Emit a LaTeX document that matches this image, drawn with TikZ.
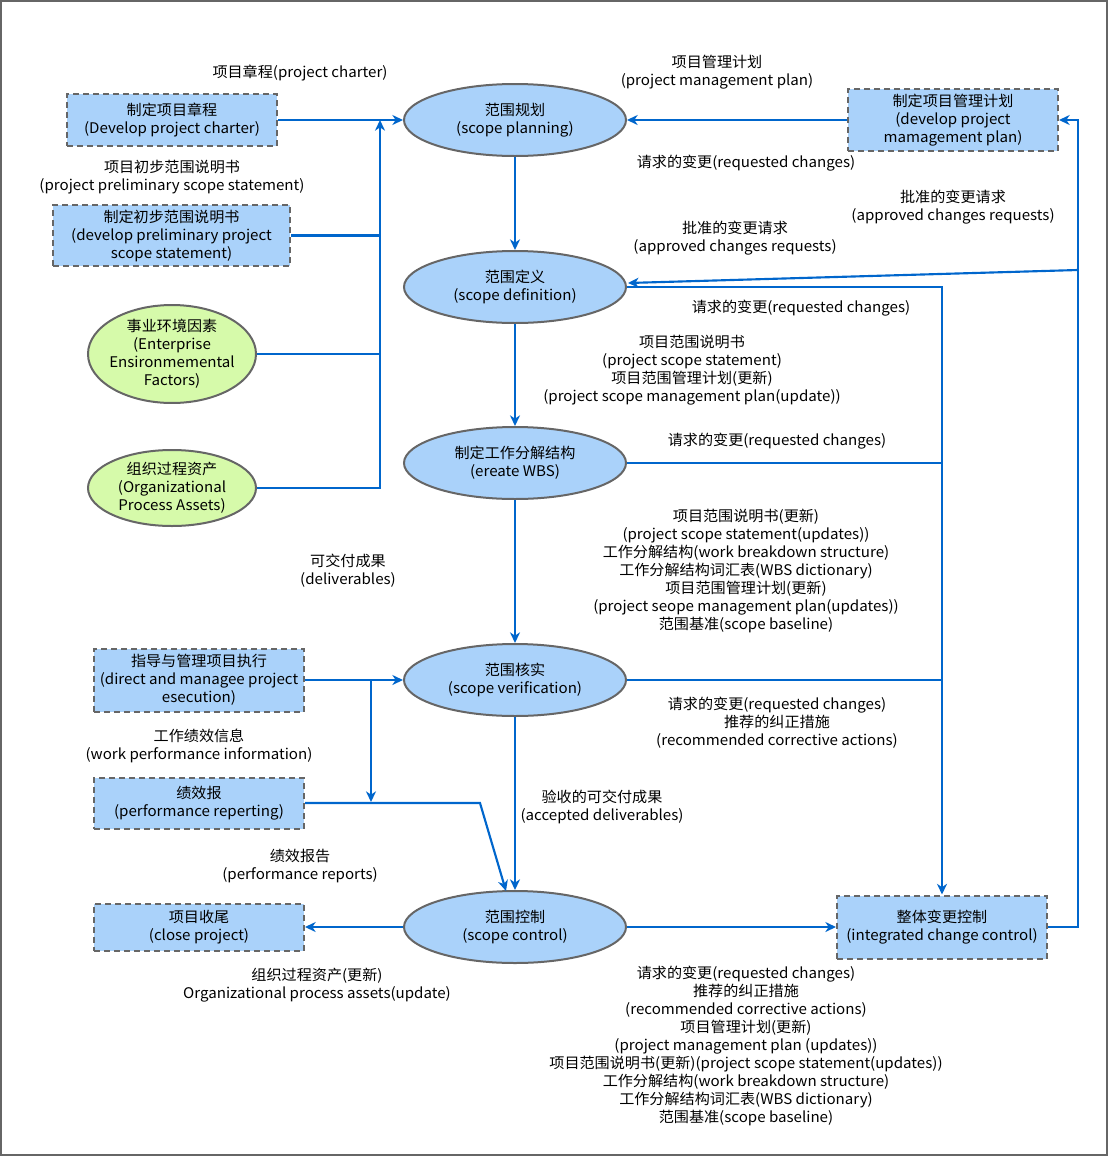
\documentclass[tikz,border=0pt]{standalone}
\usepackage{fontspec}
\setmainfont{Noto Sans CJK SC}[FakeStretch=1.03]
\usetikzlibrary{shapes.geometric,arrows.meta}
\definecolor{fillblue}{RGB}{170,210,250}
\definecolor{fillgreen}{RGB}{214,250,170}
\definecolor{lineblue}{RGB}{0,102,204}
\definecolor{edgegray}{RGB}{102,102,102}
\newcommand{\pxu}{0.75pt}
\begin{document}
\begin{tikzpicture}[x=0.75pt,y=-0.75pt,
  every node/.style={font=\fontsize{11}{13.5}\selectfont, align=center, inner sep=0pt},
  proc/.style={ellipse, draw=edgegray, line width=1.5pt, fill=fillblue, minimum width={222*\pxu}, minimum height={72*\pxu}},
  env/.style={ellipse, draw=edgegray, line width=1.5pt, fill=fillgreen, inner xsep=-8pt, minimum width={168*\pxu}, minimum height={76*\pxu}},
  extbox/.style={rectangle, draw=edgegray, dashed, dash pattern=on 4.5pt off 3pt, line width=1.5pt, fill=fillblue, minimum width={210*\pxu}},
  conn/.style={draw=lineblue, line width=1.6pt},
  arr/.style={conn, -{Stealth[length=8pt, width=7.5pt, inset=2.5pt]}},
  lbl/.style={text=black, yshift=-1.2pt}
]
\useasboundingbox (0,0) rectangle (1109,1157);
\draw[edgegray, line width=1.5pt] (1,1) rectangle (1107,1155);

% process ellipses
\node[proc] (E1) at (515,120) {范围规划\\(scope planning)};
\node[proc] (E2) at (515,287) {范围定义\\(scope definition)};
\node[proc] (E3) at (515,463) {制定工作分解结构\\(ereate WBS)};
\node[proc] (E4) at (515,680) {范围核实\\(scope verification)};
\node[proc] (E5) at (515,927) {范围控制\\(scope control)};

% environment ellipses
\node[env] (G1) at (172,354) {事业环境因素\\(Enterprise\\Ensironmemental\\Factors)};
\node[env] (G2) at (172,488) {组织过程资产\\(Organizational\\Process Assets)};

% external boxes
\node[extbox, minimum height={52*\pxu}] (B1) at (172,120) {制定项目章程\\(Develop project charter)};
\node[extbox, minimum width={237*\pxu}, minimum height={61*\pxu}] (B2) at (171.5,235.5) {制定初步范围说明书\\(develop preliminary project\\scope statement)};
\node[extbox, minimum height={62*\pxu}] (B3) at (953,120) {制定项目管理计划\\(develop project\\mamagement plan)};
\node[extbox, minimum height={63*\pxu}] (B4) at (199,680) {指导与管理项目执行\\(direct and managee project\\esecution)};
\node[extbox, minimum height={51*\pxu}] (B5) at (199,803) {绩效报\\(performance reperting)};
\node[extbox, minimum height={47*\pxu}] (B6) at (199,927) {项目收尾\\(close project)};
\node[extbox, minimum height={63*\pxu}] (B7) at (942,927) {整体变更控制\\(integrated change control)};

% junction coordinates
\coordinate (J1) at (380,120);
\coordinate (R1) at (1078,120);
\coordinate (R2) at (1078,270);
\coordinate (E2a) at (628,283);
\coordinate (K1) at (371,680);
\coordinate (K2) at (371,802);
\coordinate (K3) at (480,803);
\coordinate (K4) at (506,891);

% connectors, left inputs
\draw[arr] (B1.east) -- (E1.west);
\draw[conn] (B2.east) -- (B2.east -| J1);
\draw[conn] (G1.east) -- (G1.east -| J1);
\draw[arr] (G2.east) -| (J1);

% top right
\draw[arr] (B3.west) -- (E1.east);
\draw[arr] (B7.east) -| (R1) -- (B3.east);
\draw[arr] (R2) -- (E2a);

% main chain
\draw[arr] (E1.south) -- (E2.north);
\draw[arr] (E2.south) -- (E3.north);
\draw[arr] (E3.south) -- (E4.north);
\draw[arr] (E4.south) -- (E5.north);

% requested changes to integrated change control
\draw[arr] (E2.east) -| (B7.north);
\draw[conn] (E3.east) -- (E3.east -| B7.north);
\draw[conn] (E4.east) -- (E4.east -| B7.north);

% execution and performance
\draw[arr] (B4.east) -- (E4.west);
\draw[arr] (K1) -- (K2);
\draw[arr] (B5.east) -- (K3) -- (K4);

% scope control outputs
\draw[arr] (E5.west) -- (B6.east);
\draw[arr] (E5.east) -- (B7.west);

% labels
\node[lbl] (L1) at (300,71) {项目章程(project charter)};
\node[lbl] (L2) at (172,176) {项目初步范围说明书\\(project preliminary scope statement)};
\node[lbl] (L3) at (717,71) {项目管理计划\\(project management plan)};
\node[lbl] (L4) at (746,162) {请求的变更(requested changes)};
\node[lbl] (L5) at (953,206) {批准的变更请求\\(approved changes requests)};
\node[lbl] (L6) at (735,237) {批准的变更请求\\(approved changes requests)};
\node[lbl] (L7) at (801,307) {请求的变更(requested changes)};
\node[lbl] (L8) at (692,369) {项目范围说明书\\(project scope statement)\\项目范围管理计划(更新)\\(project scope management plan(update))};
\node[lbl] (L9) at (777,440) {请求的变更(requested changes)};
\node[lbl] (L10) at (348,569) {可交付成果\\(deliverables)};
\node[lbl] (L11) at (746,569) {项目范围说明书(更新)\\(project scope statement(updates))\\工作分解结构(work breakdown structure)\\工作分解结构词汇表(WBS dictionary)\\项目范围管理计划(更新)\\(project seope management plan(updates))\\范围基准(scope baseline)};
\node[lbl] (L12) at (777,721) {请求的变更(requested changes)\\推荐的纠正措施\\(recommended corrective actions)};
\node[lbl] (L13) at (199,744) {工作绩效信息\\(work performance information)};
\node[lbl] (L14) at (602,805) {验收的可交付成果\\(accepted deliverables)};
\node[lbl] (L15) at (300,864) {绩效报告\\(performance reports)};
\node[lbl] (L16) at (317,984) {组织过程资产(更新)\\Organizational process assets(update)};
\node[lbl] (L17) at (746,1044) {请求的变更(requested changes)\\推荐的纠正措施\\(recommended corrective actions)\\项目管理计划(更新)\\(project management plan (updates))\\项目范围说明书(更新)(project scope statement(updates))\\工作分解结构(work breakdown structure)\\工作分解结构词汇表(WBS dictionary)\\范围基准(scope baseline)};
\end{tikzpicture}
\end{document}
